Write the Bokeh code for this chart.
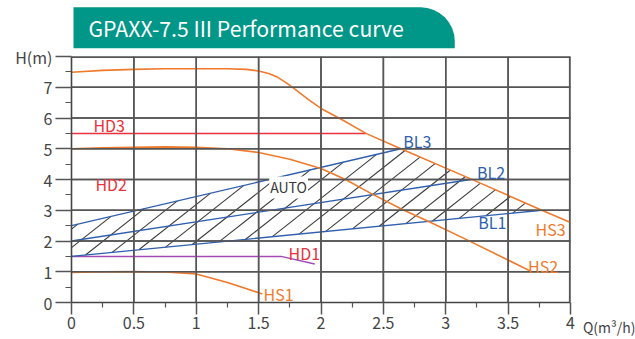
import numpy as np
from bokeh.plotting import figure
from bokeh.models import Label, Range1d, FixedTicker, Span
from bokeh.embed import file_html
from bokeh.resources import INLINE

# ---------------- data ----------------
title_text = "GPAXX-7.5 III Performance curve"
x_ticks = [0, 0.5, 1, 1.5, 2, 2.5, 3, 3.5, 4]
x_tick_labels = ["0", "0.5", "1", "1.5", "2", "2.5", "3", "3.5", "4"]
y_ticks = [0, 1, 2, 3, 4, 5, 6, 7, 8]
y_tick_labels = ["0", "1", "2", "3", "4", "5", "6", "7", "H(m)"]
x_unit_label = "Q(m³/h)"

hs3_q = [0, 0.25, 0.5, 0.75, 1.0, 1.25, 1.4, 1.5, 1.58, 1.65, 1.72, 1.78, 1.9, 2.0, 2.18, 2.36, 2.64, 3.2, 3.77, 4.0]
hs3_h = [7.49, 7.55, 7.58, 7.6, 7.6, 7.6, 7.58, 7.53, 7.45, 7.33, 7.15, 6.97, 6.6, 6.31, 5.92, 5.5, 5.0, 4.02, 3.0, 2.6]

hs2_q = [0, 0.25, 0.5, 0.75, 1.0, 1.25, 1.5, 1.75, 2.0, 2.2, 2.4, 2.64, 2.88, 3.2, 3.49, 3.7]
hs2_h = [5.0, 5.03, 5.05, 5.06, 5.05, 5.0, 4.88, 4.66, 4.36, 3.99, 3.55, 3.05, 2.6, 1.98, 1.4, 0.98]

hs1_q = [0, 0.25, 0.5, 0.75, 1.0, 1.25, 1.53]
hs1_h = [0.98, 1.0, 1.01, 0.99, 0.93, 0.65, 0.28]

hd3_q = [0, 2.36]
hd3_h = [5.5, 5.5]

hd1_q = [0, 1.68, 1.95]
hd1_h = [1.5, 1.5, 1.25]

bl1_q = [0, 3.77]
bl1_h = [1.5, 3.0]
bl2_q = [0, 3.2]
bl2_h = [2.0, 4.0]
bl3_q = [0, 2.64]
bl3_h = [2.5, 5.0]

# ---------------- styles ----------------
FONT = "Noto Sans CJK SC"
ORANGE = "#F07A2C"
RED = "#E8323C"
BLUE = "#2F5FAE"
PURPLE = "#A24BB4"
GRID = "#555555"
TEXT = "#444444"

p = figure(frame_width=499, frame_height=246,
           x_range=Range1d(x_ticks[0], x_ticks[-1]),
           y_range=Range1d(y_ticks[0], y_ticks[-1]),
           output_backend="svg", toolbar_location=None,
           min_border_left=71, min_border_right=65,
           min_border_top=56, min_border_bottom=37,
           outline_line_color=None)
p.grid.visible = False

x_minor = [(a + b) / 2 for a, b in zip(x_ticks[:-1], x_ticks[1:])]
y_minor = [(a + b) / 2 for a, b in zip(y_ticks[:-1], y_ticks[1:])]
p.xaxis.ticker = FixedTicker(ticks=x_ticks, minor_ticks=x_minor)
p.yaxis.ticker = FixedTicker(ticks=y_ticks, minor_ticks=y_minor)
p.xaxis.major_label_overrides = {t: l for t, l in zip(x_ticks, x_tick_labels)}
p.yaxis.major_label_overrides = {t: l for t, l in zip(y_ticks, y_tick_labels)}

for ax in (p.xaxis, p.yaxis):
    ax.axis_line_color = "#444444"
    ax.axis_line_width = 1.6
    ax.major_tick_line_color = GRID
    ax.major_tick_line_width = 1.5
    ax.minor_tick_line_color = GRID
    ax.minor_tick_line_width = 1.2
    ax.major_tick_in = 0
    ax.minor_tick_in = 0
    ax.major_label_text_font = FONT
    ax.major_label_text_font_size = "16px"
    ax.major_label_text_color = TEXT
p.xaxis.major_tick_out = 12
p.xaxis.minor_tick_out = 5
p.xaxis.major_label_standoff = 2
p.yaxis.major_tick_out = 16
p.yaxis.minor_tick_out = 6
p.yaxis.major_label_standoff = 3

# ---------------- hatch (clipped diagonal lines inside the BL1..BL3 region) ----------------
poly = np.array([[bl1_q[0], bl1_h[0]], [bl1_q[-1], bl1_h[-1]],
                 [bl3_q[-1], bl3_h[-1]], [bl3_q[0], bl3_h[0]]], dtype=float)
hatch_slope = 3.2      # H per Q
hatch_step = 0.214     # spacing along Q
hatch_start = 0.112

def clip(p0, d, pg):
    t0, t1 = -1e9, 1e9
    n = len(pg)
    for i in range(n):
        a = pg[i]
        b = pg[(i + 1) % n]
        e = b - a
        nrm = np.array([-e[1], e[0]])
        num = nrm @ (p0 - a)
        den = nrm @ d
        if abs(den) < 1e-12:
            if num < 0:
                return None
            continue
        t = -num / den
        if den > 0:
            t0 = max(t0, t)
        else:
            t1 = min(t1, t)
    if t0 >= t1:
        return None
    return p0 + t0 * d, p0 + t1 * d

bl1_slope = (bl1_h[1] - bl1_h[0]) / (bl1_q[1] - bl1_q[0])
hatch_xs, hatch_ys = [], []
for k in range(-8, 20):
    q0 = hatch_start + k * hatch_step
    p0 = np.array([q0, bl1_h[0] + bl1_slope * q0])
    seg = clip(p0, np.array([1.0, hatch_slope]), poly)
    if seg is not None:
        hatch_xs.append([float(seg[0][0]), float(seg[1][0])])
        hatch_ys.append([float(seg[0][1]), float(seg[1][1])])

# ---------------- grid, one line per tick ----------------
x0, x1 = x_ticks[0], x_ticks[-1]
y0, y1 = y_ticks[0], y_ticks[-1]
for t in x_ticks[1:]:
    p.line([t, t], [y0, y1], line_color=GRID, line_width=1.5 if t != x1 else 3.2)
for t in y_ticks[1:]:
    p.line([x0, x1], [t, t], line_color=GRID, line_width=1.5 if t != y1 else 3.2)
# the same grid as span annotations
for t in x_ticks[1:]:
    p.add_layout(Span(location=t, dimension="height", line_color=GRID,
                      line_width=1.5 if t != x1 else 2.2))
for t in y_ticks[1:]:
    p.add_layout(Span(location=t, dimension="width", line_color=GRID,
                      line_width=1.5 if t != y1 else 2.2))

p.multi_line(hatch_xs, hatch_ys, line_color="#3a3a3a", line_width=1.1)

# ---------------- curves ----------------
p.line(hd3_q, hd3_h, line_color=RED, line_width=1.5)
p.line(hd1_q, hd1_h, line_color=PURPLE, line_width=1.5)
p.line(bl1_q, bl1_h, line_color=BLUE, line_width=1.3)
p.line(bl2_q, bl2_h, line_color=BLUE, line_width=1.3)
p.line(bl3_q, bl3_h, line_color=BLUE, line_width=1.3)
p.line(hs1_q, hs1_h, line_color=ORANGE, line_width=1.6)
p.line(hs2_q, hs2_h, line_color=ORANGE, line_width=1.6)
p.line(hs3_q, hs3_h, line_color=ORANGE, line_width=1.6)

def lab(x, y, text, color, size="16px", place=None, **kw):
    l = Label(x=x, y=y, text=text, text_color=color, text_font=FONT,
              text_font_size=size, text_baseline="middle",
              text_align="left", **kw)
    if place:
        p.add_layout(l, place)
    else:
        p.add_layout(l)

lab(0.176, 5.76, "HD3", RED)
lab(0.192, 3.84, "HD2", RED)
lab(1.74, 1.62, "HD1", RED)
lab(1.54, 0.29, "HS1", ORANGE)
lab(3.66, 1.19, "HS2", ORANGE)
lab(3.72, 2.40, "HS3", ORANGE)
lab(2.66, 5.24, "BL3", BLUE)
lab(3.25, 4.26, "BL2", BLUE)
lab(3.26, 2.63, "BL1", BLUE)
lab(1.585, 3.74, "AUTO", "#3a3a3a", size="14px",
    background_fill_color="white", padding=1)

# x unit label, to the right of the last tick (outside the frame)
lab(4.1, -0.8, x_unit_label, TEXT, size="14px", place="below")

# title banner (outside the frame)
p.add_layout(Label(x=0.016, y=9.6, text=title_text, anchor="top_left",
                   text_color="white", text_font=FONT, text_font_size="21.2px",
                   text_baseline="top", text_align="left",
                   background_fill_color="#009688",
                   padding=dict(left=15, right=51, top=5, bottom=5),
                   border_radius=dict(top_left=0, top_right=34, bottom_right=0, bottom_left=0)),
             "above")

open("out.html", "w").write(file_html(p, INLINE))
